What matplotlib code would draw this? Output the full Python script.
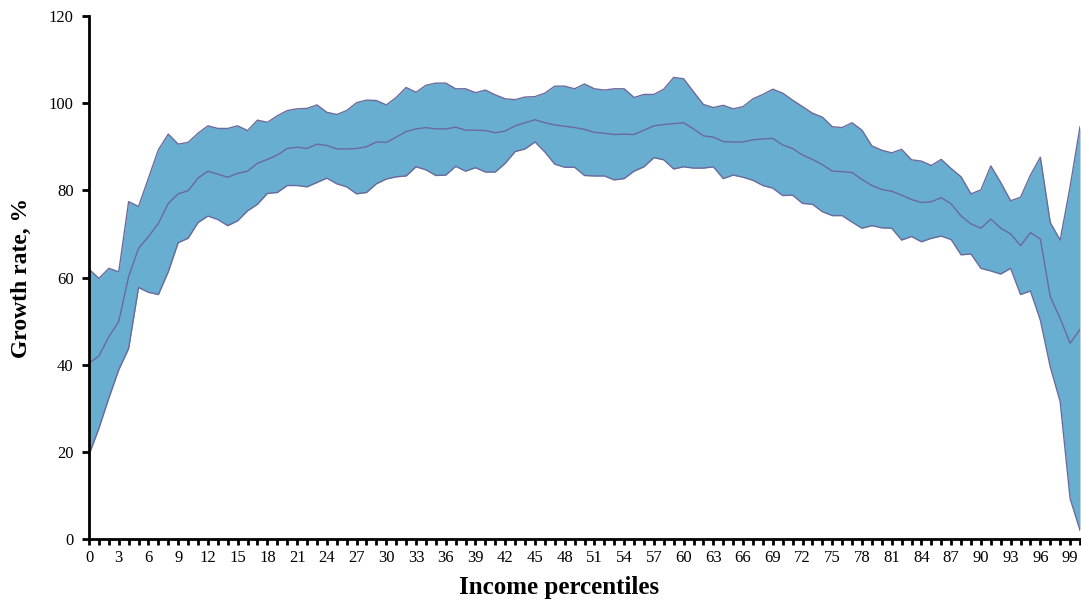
import numpy as np
import matplotlib
matplotlib.use('Agg')
from matplotlib import pyplot as plt

# percentiles 0..100
percentile = np.arange(0, 101)

upper = [61.9, 59.8, 62.1, 61.3, 77.4, 76.3, 82.8, 89.3, 92.9, 90.6,
         91.0, 93.1, 94.8, 94.2, 94.2, 94.8, 93.7, 96.1, 95.6, 97.1,
         98.3, 98.7, 98.8, 99.6, 97.9, 97.4, 98.3, 100.1, 100.7, 100.6,
         99.6, 101.3, 103.6, 102.5, 104.1, 104.6, 104.6, 103.3, 103.3, 102.4,
         103.0, 101.9, 101.0, 100.8, 101.4, 101.5, 102.3, 103.9, 103.9, 103.3,
         104.4, 103.3, 103.0, 103.3, 103.3, 101.3, 102.0, 102.0, 103.2, 105.9,
         105.6, 102.6, 99.7, 99.0, 99.5, 98.7, 99.2, 101.0, 102.0, 103.2,
         102.3, 100.7, 99.2, 97.7, 96.8, 94.6, 94.4, 95.5, 93.8, 90.2,
         89.2, 88.6, 89.4, 87.0, 86.7, 85.7, 87.1, 85.0, 83.1, 79.2,
         80.1, 85.6, 81.8, 77.6, 78.4, 83.5, 87.6, 72.6, 68.6, 80.8,
         94.6]

middle = [40.3, 42.0, 46.4, 49.9, 60.2, 66.7, 69.4, 72.4, 77.0, 79.2,
          79.9, 82.8, 84.4, 83.7, 83.0, 83.9, 84.4, 86.2, 87.1, 88.1,
          89.6, 89.9, 89.6, 90.6, 90.3, 89.5, 89.5, 89.6, 90.0, 91.1,
          91.0, 92.2, 93.5, 94.1, 94.4, 94.1, 94.1, 94.5, 93.8, 93.8,
          93.7, 93.2, 93.6, 94.8, 95.5, 96.2, 95.5, 95.0, 94.7, 94.4,
          94.0, 93.3, 93.1, 92.8, 92.9, 92.8, 93.8, 94.8, 95.1, 95.3,
          95.5, 94.1, 92.5, 92.2, 91.2, 91.1, 91.1, 91.6, 91.8, 91.9,
          90.4, 89.6, 88.1, 87.1, 85.9, 84.4, 84.3, 84.1, 82.5, 81.1,
          80.2, 79.8, 78.9, 77.9, 77.2, 77.4, 78.3, 76.9, 74.1, 72.3,
          71.3, 73.4, 71.3, 70.0, 67.3, 70.3, 68.8, 55.6, 50.6, 44.9,
          48.1]

lower = [19.3, 25.4, 32.3, 38.8, 43.7, 57.7, 56.6, 56.1, 61.3, 68.0,
         69.0, 72.6, 74.1, 73.3, 71.9, 73.0, 75.3, 76.8, 79.3, 79.5,
         81.1, 81.1, 80.8, 81.8, 82.8, 81.5, 80.8, 79.2, 79.5, 81.5,
         82.6, 83.1, 83.3, 85.4, 84.7, 83.4, 83.5, 85.5, 84.4, 85.2,
         84.2, 84.2, 86.2, 88.9, 89.5, 91.1, 88.8, 86.0, 85.3, 85.3,
         83.4, 83.3, 83.3, 82.4, 82.7, 84.4, 85.4, 87.5, 87.0, 84.9,
         85.4, 85.1, 85.1, 85.4, 82.7, 83.5, 83.0, 82.3, 81.1, 80.5,
         78.8, 78.9, 77.0, 76.8, 75.1, 74.2, 74.2, 72.7, 71.3, 71.9,
         71.4, 71.3, 68.6, 69.4, 68.2, 69.0, 69.5, 68.7, 65.2, 65.4,
         62.1, 61.5, 60.8, 62.1, 56.1, 56.9, 50.2, 39.5, 31.5, 9.3,
         2.0]

fill_col = '#68aed1'
line_col = '#6a6a9c'

plt.rcParams['font.family'] = ['Liberation Serif', 'DejaVu Serif']

fig = plt.figure(figsize=(10.81, 6.01), dpi=100)
ax = fig.add_axes([89/1081, 62/601, 991/1081, 523/601])

ax.fill_between(percentile, lower, upper, color=fill_col, linewidth=0)
ax.plot(percentile, upper, color=line_col, lw=1)
ax.plot(percentile, middle, color=line_col, lw=1)
ax.plot(percentile, lower, color=line_col, lw=1)

ax.set_xlim(0, 100)
ax.set_ylim(0, 120)
ax.set_yticks(np.arange(0, 121, 20))
ax.set_xticks(np.arange(0, 100, 3))
ax.set_xticks(np.arange(0, 101, 1), minor=True)

for s in ['top', 'right']:
    ax.spines[s].set_visible(False)
for s in ['left', 'bottom']:
    ax.spines[s].set_linewidth(2)

ax.tick_params(axis='y', which='major', direction='out', length=5, width=2, labelsize=12, pad=6)
ax.tick_params(axis='x', which='major', direction='out', length=4, width=2, labelsize=12, pad=4)
ax.tick_params(axis='x', which='minor', direction='out', length=4, width=2)

ax.set_xlabel('Income percentiles', fontsize=18, fontweight='bold')
ax.xaxis.set_label_coords(0.474, -0.092, transform=ax.transAxes)
ax.xaxis.label.set_verticalalignment('center')
ax.set_ylabel('Growth rate, %', fontsize=17, fontweight='bold', labelpad=12)

fig.savefig('out.png', dpi=100)
